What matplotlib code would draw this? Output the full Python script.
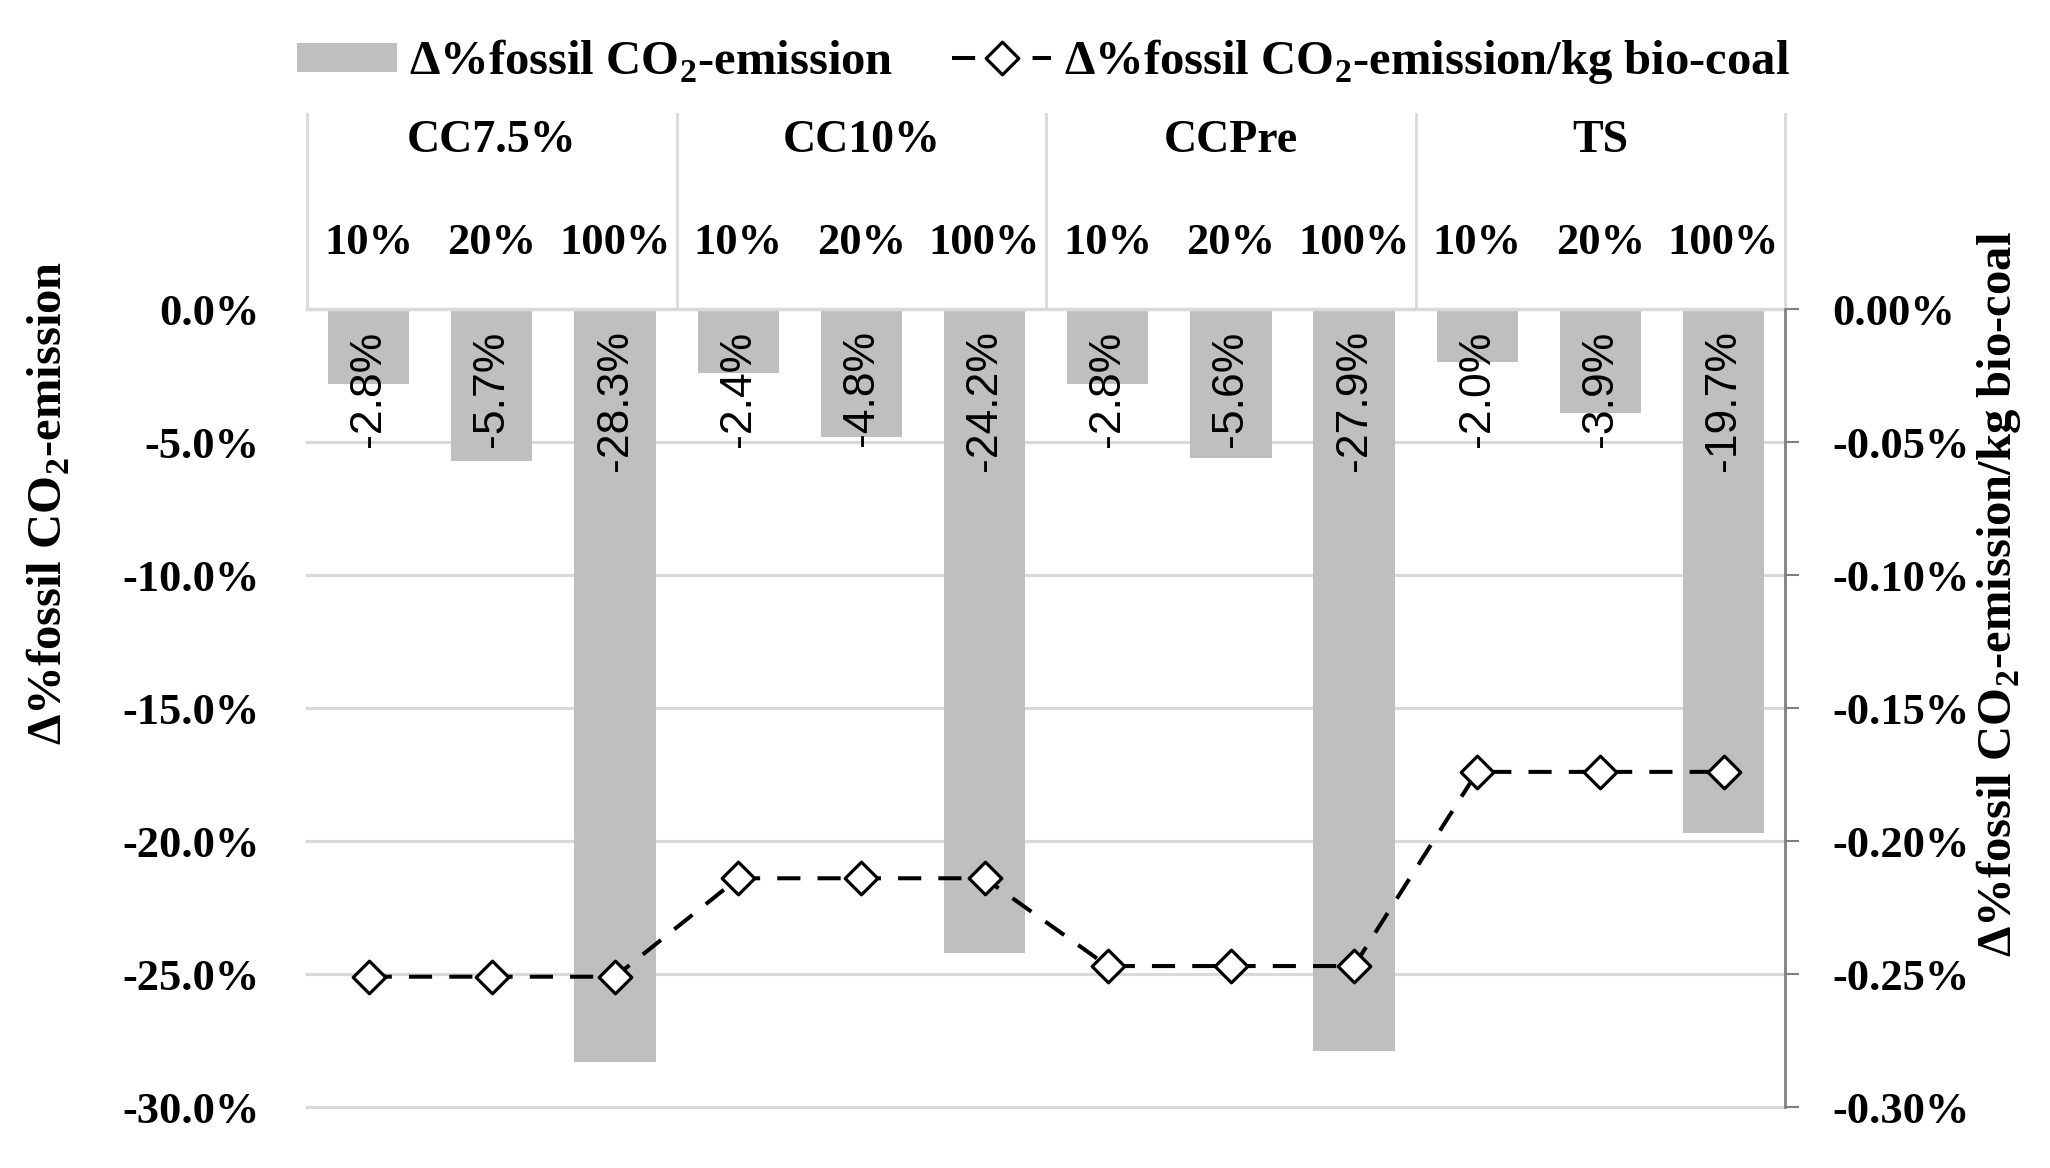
import numpy as np
import matplotlib
matplotlib.use("Agg")
import matplotlib.pyplot as plt
from matplotlib.path import Path
from matplotlib.ticker import FuncFormatter
from matplotlib.patches import Patch
from matplotlib.lines import Line2D

plt.rcParams['font.family'] = ['Liberation Serif', 'DejaVu Serif']
plt.rcParams['axes.unicode_minus'] = False
plt.rcParams['mathtext.fontset'] = 'custom'
plt.rcParams['mathtext.rm'] = 'Liberation Serif'
plt.rcParams['mathtext.bf'] = 'Liberation Serif:bold'

# data
groups = ['CC7.5%', 'CC10%', 'CCPre', 'TS']
shares = ['10%', '20%', '100%']
co2_change = [-2.8, -5.7, -28.3, -2.4, -4.8, -24.2, -2.8, -5.6, -27.9, -2.0, -3.9, -19.7]
co2_per_kg = [-0.251, -0.251, -0.251, -0.214, -0.214, -0.214,
              -0.247, -0.247, -0.247, -0.174, -0.174, -0.174]
left_ticks = [-30, -25, -20, -15, -10, -5, 0]
right_ticks = [-0.30, -0.25, -0.20, -0.15, -0.10, -0.05, 0.0]

sub_labels = shares * len(groups)
x = np.arange(len(co2_change))

grid_c = '#d9d9d9'
bar_c = '#bfbfbf'


def pct(decimals):
    def f(v, pos):
        v = round(v, decimals) + 0.0
        return f'{v:.{decimals}f}%'
    return FuncFormatter(f)


fig = plt.figure(figsize=(20.5, 11.68), dpi=100)
ax = fig.add_axes([0.1498, 0.0522, 0.721, 0.6832])

ax.bar(x, co2_change, width=0.66, color=bar_c, zorder=2)
for xi, v in zip(x, co2_change):
    ax.text(xi, -0.8, f'{v:.1f}%', rotation=90, ha='center', va='top',
            family='Liberation Sans', fontsize=32, zorder=3)

ax.set_xlim(-0.5, len(x) - 0.5)
ax.set_ylim(-30, 0)
ax.set_yticks(left_ticks)
ax.yaxis.set_major_formatter(pct(1))
ax.tick_params(axis='y', length=0, pad=34, labelsize=32)
for lbl in ax.get_yticklabels():
    lbl.set_fontweight('bold')
ax.yaxis.grid(True, color=grid_c, linewidth=2.2)
ax.set_axisbelow(True)
for gl in ax.get_ygridlines():
    gl.set_clip_on(False)

# sub labels along the top
ax.xaxis.tick_top()
ax.set_xticks(x)
ax.set_xticklabels(sub_labels, fontsize=32, fontweight='bold')
ax.tick_params(axis='x', length=0, pad=33)

for s in ['left', 'right', 'bottom']:
    ax.spines[s].set_visible(False)
ax.spines['top'].set_color(grid_c)
ax.spines['top'].set_linewidth(2.5)

# category header
hdr = 1.244
tr = ax.get_xaxis_transform()
for b in np.arange(-0.5, len(x), 3):
    ax.plot([b, b], [1, hdr], color=grid_c, lw=2, transform=tr, clip_on=False)
for i, g in enumerate(groups):
    ax.text(3 * i + 1, 1.21, g, transform=tr, ha='center', va='center',
            fontsize=33, fontweight='bold')

# second axis
ax2 = ax.twinx()
diamond = Path([(0, 0.5), (0.5, 0), (0, -0.5), (-0.5, 0), (0, 0.5)],
               [Path.MOVETO, Path.LINETO, Path.LINETO, Path.LINETO, Path.CLOSEPOLY])
line_kw = dict(color='black', lw=2.9, dashes=(5.75, 4.25), marker=diamond,
               markersize=23.5, markerfacecolor='white', markeredgecolor='black',
               markeredgewidth=2.3)
ax2.plot(x, co2_per_kg, zorder=4, **line_kw)
ax2.set_ylim(-0.30, 0)
ax2.set_yticks(right_ticks)
ax2.yaxis.set_major_formatter(pct(2))
ax2.tick_params(axis='y', length=10, width=1.5, color='#808080', pad=24, labelsize=32)
for lbl in ax2.get_yticklabels():
    lbl.set_fontweight('bold')
for s in ['left', 'top', 'bottom']:
    ax2.spines[s].set_visible(False)
ax2.spines['right'].set_color('#808080')
ax2.spines['right'].set_linewidth(2)

# axis titles
fig.text(0.0234, 0.569, r'Δ%fossil CO$_\mathbf{2}$-emission', rotation=90,
         ha='center', va='center', fontsize=35, fontweight='bold')
fig.text(0.975, 0.491, r'Δ%fossil CO$_\mathbf{2}$-emission/kg bio-coal', rotation=90,
         ha='center', va='center', fontsize=35, fontweight='bold')

# legend
handles = [Patch(facecolor=bar_c, edgecolor='none'),
           Line2D([], [], **line_kw)]
labels = [r'Δ%fossil CO$_\mathbf{2}$-emission', r'Δ%fossil CO$_\mathbf{2}$-emission/kg bio-coal']
fig.legend(handles, labels, loc='center', bbox_to_anchor=(0.509, 0.947), ncol=2,
           frameon=False, prop={'size': 35, 'weight': 'bold'},
           handlelength=2.05, handleheight=0.55, handletextpad=0.25, columnspacing=1.2)

fig.savefig('out.png', dpi=100)
